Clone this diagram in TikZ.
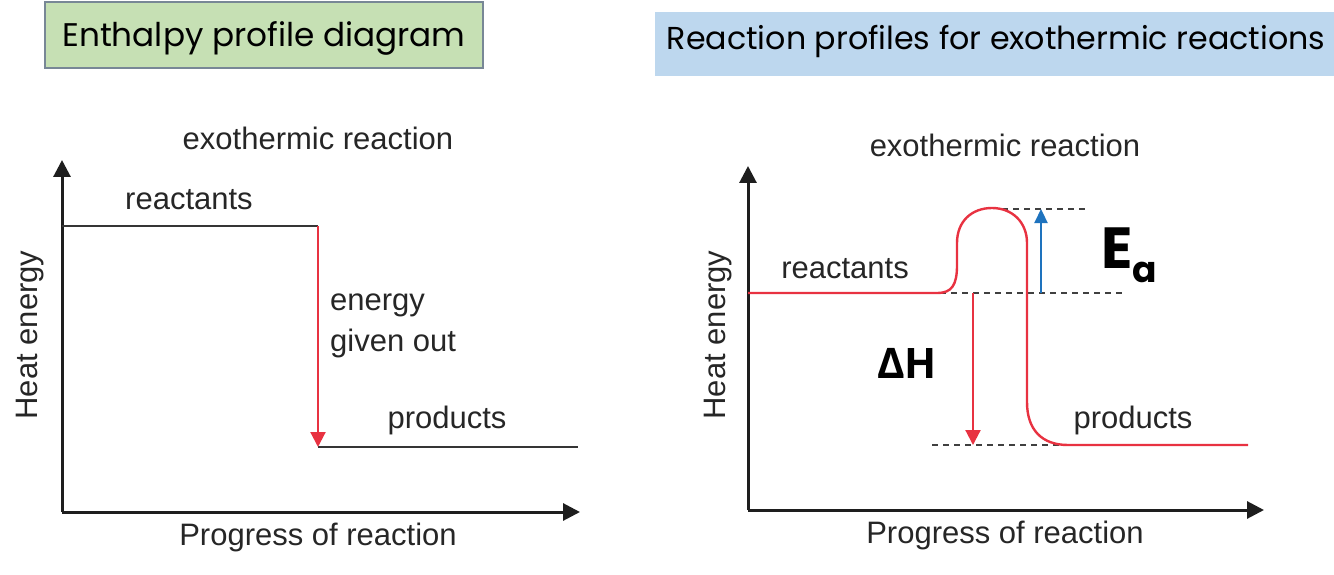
\documentclass[tikz,border=0pt]{standalone}
\usepackage{fontspec}
\setmainfont{Liberation Sans}
\newfontfamily\titlefont{Poppins}
\newfontfamily\boldgreek{Open Sans}
\usetikzlibrary{arrows.meta}
\definecolor{titlegreen}{RGB}{198,224,180}
\definecolor{titleblue}{RGB}{189,215,238}
\definecolor{boxedge}{RGB}{120,135,150}
\definecolor{curvered}{RGB}{232,50,65}
\definecolor{arrowblue}{RGB}{30,115,190}
\definecolor{axisblack}{RGB}{30,30,30}
\tikzset{
  axis/.style={line width=3pt, draw=axisblack, -{Triangle[length=17pt,width=17pt]}},
  level/.style={line width=2.4pt, draw=axisblack!90},
  curve/.style={line width=2.4pt, draw=curvered},
  redarrow/.style={line width=2.2pt, draw=curvered, -{Triangle[length=15pt,width=15pt]}, fill=curvered},
  bluearrow/.style={line width=2.2pt, draw=arrowblue, -{Triangle[length=14pt,width=13pt]}, fill=arrowblue},
  guide/.style={line width=1.3pt, draw=black!75, dash pattern=on 6pt off 5pt},
  lbl/.style={inner sep=0pt, font=\fontsize{31}{36}\selectfont, text=black!85},
  titletext/.style={inner sep=0pt, font=\titlefont\fontsize{32.7}{38}\selectfont},
}
\begin{document}
\begin{tikzpicture}[x=1pt,y=-1pt]
\useasboundingbox (0,0) rectangle (1334,575);
% title boxes
\node[draw=boxedge, line width=1.5pt, fill=titlegreen, minimum width=438pt, minimum height=66pt, inner sep=0pt] (tbox1) at (264,35) {};
\node[titletext] (title1) at (264,38) {Enthalpy profile diagram};
\node[fill=titleblue, minimum width=679pt, minimum height=64pt, inner sep=0pt] (tbox2) at (994.5,44) {};
\node[titletext, font=\titlefont\fontsize{31.7}{37}\selectfont] (title2) at (996,42) {Reaction profiles for exothermic reactions};

% ===== left graph =====
\coordinate (o1) at (62,512);
\coordinate (ytip1) at (62,160);
\coordinate (xtip1) at (580,512);
\draw[axis] (o1) -- (ytip1);
\draw[axis] (o1) -- (xtip1);
\coordinate (r1a) at (62,226);
\coordinate (r1b) at (318,226);
\coordinate (p1a) at (318,447);
\coordinate (p1b) at (578,447);
\draw[level] (r1a) -- (r1b);
\draw[level] (p1a) -- (p1b);
\draw[redarrow] (r1b) -- (p1a);
\node[lbl] (ex1) at (318,138) {exothermic reaction};
\node[lbl] (re1) at (189,200) {reactants};
\node[lbl, anchor=west] (en1) at (330,305) {energy};
\node[lbl, anchor=west] (go1) at (330,343) {given out};
\node[lbl] (pr1) at (447,420) {products};
\node[lbl, rotate=90] (he1) at (30,335) {Heat energy};
\node[lbl] (pg1) at (318,537) {Progress of reaction};

% ===== right graph =====
\coordinate (o2) at (748,510);
\coordinate (ytip2) at (748,166);
\coordinate (xtip2) at (1264,510);
\draw[axis] (o2) -- (ytip2);
\draw[axis] (o2) -- (xtip2);
% guides
\coordinate (gt1) at (1002,209);
\coordinate (gt2) at (1088,209);
\coordinate (gm1) at (940,293);
\coordinate (gm2) at (1122,293);
\coordinate (gb1) at (932,445);
\coordinate (gb2) at (1062,445);
\draw[guide] (gt1) -- (gt2);
\draw[guide] (gm1) -- (gm2);
\draw[guide] (gb1) -- (gb2);
% curve
\coordinate (c0) at (748,293);
\coordinate (c9) at (1248,445);
\draw[curve] (c0) -- (937,293)
  .. controls (952,293) and (957,285) .. (957,265) -- (957,243)
  .. controls (957,221) and (972,208) .. (992,208)
  .. controls (1012,208) and (1027,222) .. (1027,243)
  -- (1027,402)
  .. controls (1027,430) and (1042,445) .. (1068,445) -- (c9);
% arrows
\coordinate (ea1) at (1041,293);
\coordinate (ea2) at (1041,209);
\draw[bluearrow] (ea1) -- (ea2);
\coordinate (dh1) at (973,293);
\coordinate (dh2) at (973,445);
\draw[redarrow] (dh1) -- (dh2);
% labels
\node[lbl] (ex2) at (1005,145) {exothermic reaction};
\node[lbl] (re2) at (845,269) {reactants};
\node[lbl] (pr2) at (1133,420) {products};
\node[lbl, rotate=90] (he2) at (718,335) {Heat energy};
\node[lbl] (pg2) at (1005,535) {Progress of reaction};
\node[inner sep=0pt, anchor=base west, font=\titlefont\bfseries\fontsize{58}{58}\selectfont] (ea) at (1101,268) {E\raisebox{-14pt}{\fontsize{36}{36}\selectfont a}};
\node[inner sep=0pt, anchor=base, font=\boldgreek\bfseries\fontsize{42}{42}\selectfont] (dh) at (907,378) {ΔH};
\end{tikzpicture}
\end{document}
